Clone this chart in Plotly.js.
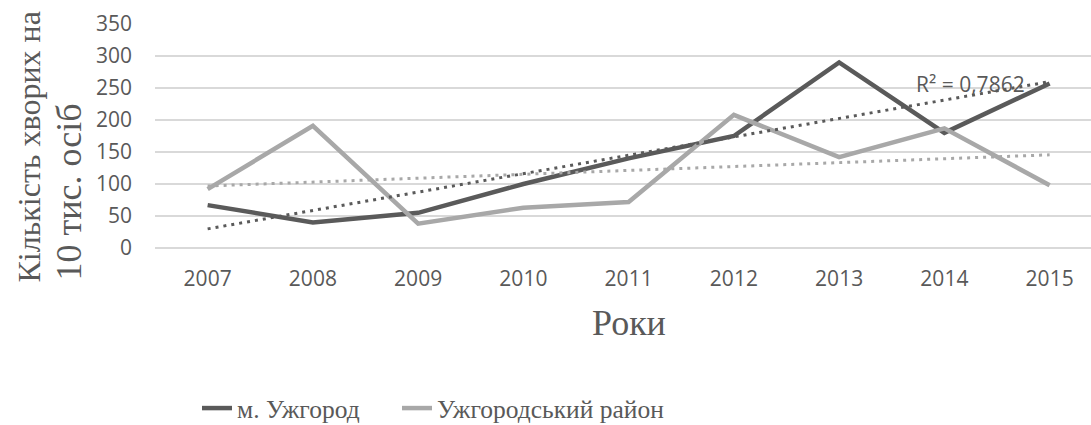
<!DOCTYPE html>
<html>
<head>
<meta charset="utf-8">
<script src="https://cdn.plot.ly/plotly-3.0.1.min.js"></script>
<style>
html,body{margin:0;padding:0;background:#fff;overflow:hidden;}
#chart{width:1091px;height:425px;}
</style>
</head>
<body>
<div id="chart"></div>
<script>
const years = ['2007','2008','2009','2010','2011','2012','2013','2014','2015'];
const uzhhorodCity = [67, 40, 55, 100, 140, 175, 290, 180, 257];
const uzhhorodDistrict = [92, 191, 38, 63, 72, 208, 142, 187, 98];
const seriesNames = ['м. Ужгород', 'Ужгородський район'];
const yTicks = [0, 50, 100, 150, 200, 250, 300, 350];
const r2Label = 'R² = 0,7862';
const yTitleLines = ['Кількість хворих на', '10 тис. осіб'];
const xTitle = 'Роки';

function linearTrend(vals) {
  const n = vals.length;
  const xs = vals.map((_, i) => i + 1);
  const mx = xs.reduce((a, b) => a + b, 0) / n;
  const my = vals.reduce((a, b) => a + b, 0) / n;
  let sxy = 0, sxx = 0;
  for (let i = 0; i < n; i++) { sxy += (xs[i] - mx) * (vals[i] - my); sxx += (xs[i] - mx) ** 2; }
  const b = sxy / sxx, a = my - b * mx;
  return xs.map(x => a + b * x);
}

const dark = '#5a5a5a', light = '#a8a8a8';
const traces = [
  {x: years, y: uzhhorodCity, type: 'scatter', mode: 'lines', name: seriesNames[0], legend: 'legend',
   line: {color: dark, width: 4.5}},
  {x: years, y: uzhhorodDistrict, type: 'scatter', mode: 'lines', name: seriesNames[1], legend: 'legend2',
   line: {color: light, width: 4.5}},
  {x: years, y: linearTrend(uzhhorodCity), type: 'scatter', mode: 'lines', showlegend: false, hoverinfo: 'skip',
   line: {color: dark, width: 3, dash: '3px,5px'}},
  {x: years, y: linearTrend(uzhhorodDistrict), type: 'scatter', mode: 'lines', showlegend: false, hoverinfo: 'skip',
   line: {color: light, width: 3, dash: '3px,5px'}}
];

const plotL = 155, plotT = 24, plotB = 248, H = 425, W = 1091;
const catW = 105.25;
const xMax = -0.5 + (W - plotL) / catW;
const pw = W - plotL, ph = plotB - plotT;
const py = p => (plotB - p) / ph;
const px = p => (p - plotL) / pw;
const legendFont = {family: '"Liberation Serif", serif', size: 25.5, color: '#595959'};
const tickFont = {family: '"Open Sans", sans-serif', size: 21, color: '#595959'};

const layout = {
  width: W, height: H,
  margin: {l: plotL, r: 0, t: plotT, b: H - plotB, pad: 0, autoexpand: false},
  paper_bgcolor: '#fff', plot_bgcolor: '#fff',
  showlegend: true,
  font: {family: '"Open Sans", sans-serif', color: '#595959'},
  xaxis: {type: 'category', range: [-0.5, xMax], showgrid: false, zeroline: false, showline: false,
          ticks: '', tickfont: tickFont, ticklabelstandoff: 16, fixedrange: true},
  yaxis: {range: [0, 350], tickvals: yTicks, ticktext: yTicks.map(String), showgrid: true, gridcolor: '#d9d9d9', gridwidth: 1.5,
          zeroline: true, zerolinecolor: '#d9d9d9', zerolinewidth: 1.5, showline: false, ticks: '',
          tickfont: tickFont, ticklabelstandoff: 22, fixedrange: true},
  legend: {orientation: 'h', x: px(197), xanchor: 'left', y: py(408.5), yanchor: 'middle',
           font: legendFont, bgcolor: 'rgba(0,0,0,0)', borderwidth: 0},
  legend2: {orientation: 'h', x: px(397), xanchor: 'left', y: py(408.5), yanchor: 'middle',
           font: legendFont, bgcolor: 'rgba(0,0,0,0)', borderwidth: 0},
  annotations: [
    {text: r2Label, xref: 'x', x: years.indexOf('2014'), xanchor: 'center', xshift: 26, yref: 'y', y: 257, yanchor: 'middle',
     showarrow: false, font: tickFont},
    {text: xTitle, xref: 'x', x: years.indexOf('2011'), yref: 'paper', y: py(323), yanchor: 'middle', showarrow: false,
     font: {family: '"Liberation Serif", serif', size: 36, color: '#595959'}},
    {text: yTitleLines[0], xref: 'paper', x: px(28), xanchor: 'center', yref: 'paper', y: py(285), yanchor: 'bottom',
     textangle: -90, showarrow: false, font: {family: '"Liberation Serif", serif', size: 32, color: '#595959'}},
    {text: yTitleLines[1], xref: 'paper', x: px(68), xanchor: 'center', yref: 'paper', y: py(283), yanchor: 'bottom',
     textangle: -90, showarrow: false, font: {family: '"Liberation Serif", serif', size: 36, color: '#595959'}}
  ]
};

Plotly.newPlot('chart', traces, layout, {staticPlot: true, displayModeBar: false});
</script>
</body>
</html>
